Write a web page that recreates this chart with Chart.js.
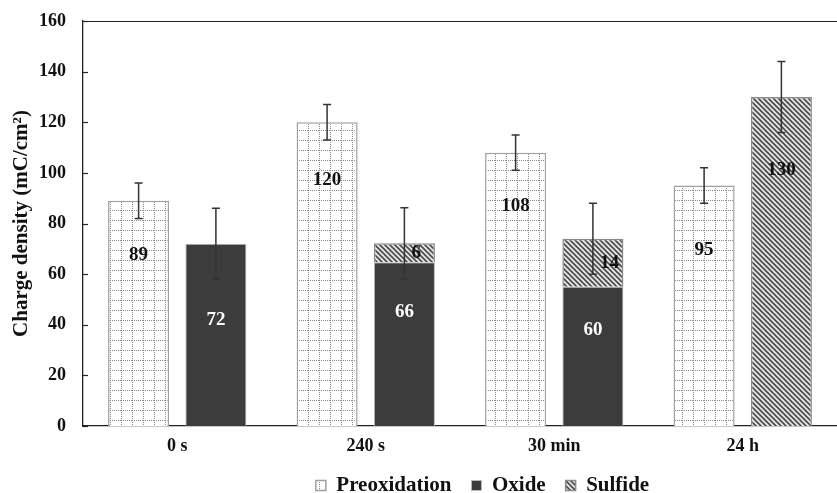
<!DOCTYPE html>
<html>
<head>
<meta charset="utf-8">
<script src="https://cdn.jsdelivr.net/npm/chart.js@4.4.0/dist/chart.umd.min.js"></script>
<style>
  html, body { margin: 0; padding: 0; background: #fff; }
  #wrap { width: 837px; height: 493px; }
</style>
</head>
<body>
<div id="wrap"><canvas id="chart"></canvas></div>
<script>
// chart data
const categories = ['0 s', '240 s', '30 min', '24 h'];
const preoxidation = [89, 120, 108, 95];
const oxide = [72, 64.7, 55, null];
const sulfide = [null, 7.5, 19, 130];
const preoxErr = [7, 7, 7, 7];
const stackErr = [14, 14, 14, 14];
const preoxLabels = ['89', '120', '108', '95'];
const oxideLabels = ['72', '66', '60', ''];
const sulfideLabels = ['', '6', '14', '130'];
const yMin = 0, yMax = 160, yStep = 20;

const FONT = "'Liberation Serif', 'Times New Roman', serif";

// fill patterns
function makeGridPattern() {
    const c = document.createElement('canvas');
    c.width = 11; c.height = 10;
    const g = c.getContext('2d');
    g.fillStyle = '#fff';
    g.fillRect(0, 0, 11, 10);
    g.fillStyle = '#8a8a8a';
    for (let i = 0; i < 11; i += 2) g.fillRect(i, 0, 1, 1);
    for (let j = 0; j < 10; j += 2) g.fillRect(0, j, 1, 1);
    return g.createPattern(c, 'repeat');
}

function makeHatchPattern() {
    const s = 5;
    const c = document.createElement('canvas');
    c.width = s; c.height = s;
    const g = c.getContext('2d');
    g.fillStyle = '#e6e6e6';
    g.fillRect(0, 0, s, s);
    g.strokeStyle = '#4a4a4a';
    g.lineWidth = 1.6;
    g.beginPath();
    g.moveTo(-1, -1); g.lineTo(s + 1, s + 1);
    g.moveTo(-1, s - 1); g.lineTo(1, s + 1);
    g.moveTo(s - 1, -1); g.lineTo(s + 1, 1);
    g.stroke();
    return g.createPattern(c, 'repeat');
}

// move the legend a little right, like the original
const legendShift = {
    id: 'legendShift',
    afterLayout(chart) {
        const lg = chart.legend;
        if (!lg) return;
        lg.left += 64; lg.right += 64;
        lg.adjustHitBoxes && lg.adjustHitBoxes();
    }
};

// error bars, ticks, top frame line, value labels
const decorPlugin = {
    id: 'decor',
    afterDatasetsDraw(chart) {
        const ctx = chart.ctx;
        const y = chart.scales.y;
        const area = chart.chartArea;
        ctx.save();
        ctx.strokeStyle = '#333';
        ctx.lineWidth = 1.5;
        const cap = 4;
        function errBar(x, v, e) {
            const top = y.getPixelForValue(v + e);
            const bot = y.getPixelForValue(v - e);
            ctx.beginPath();
            ctx.moveTo(x, top); ctx.lineTo(x, bot);
            ctx.moveTo(x - cap, top); ctx.lineTo(x + cap, top);
            ctx.moveTo(x - cap, bot); ctx.lineTo(x + cap, bot);
            ctx.stroke();
        }
        const m0 = chart.getDatasetMeta(0);
        const m1 = chart.getDatasetMeta(1);
        const m2 = chart.getDatasetMeta(2);
        categories.forEach((c, i) => {
            errBar(m0.data[i].x, preoxidation[i], preoxErr[i]);
            const total = (oxide[i] || 0) + (sulfide[i] || 0);
            errBar(m2.data[i].x, total, stackErr[i]);
        });

        // inward ticks on the y axis
        ctx.strokeStyle = '#222';
        ctx.lineWidth = 1.2;
        for (let v = yMin; v <= yMax; v += yStep) {
            const py = Math.round(y.getPixelForValue(v)) + 0.5;
            ctx.beginPath();
            ctx.moveTo(area.left, py); ctx.lineTo(area.left + 5, py);
            ctx.stroke();
        }
        // top frame line
        ctx.beginPath();
        ctx.moveTo(area.left, area.top + 0.5);
        ctx.lineTo(chart.width, area.top + 0.5);
        ctx.stroke();

        // value labels
        const opts = chart.options.plugins.decor;
        ctx.font = 'bold 19px ' + FONT;
        ctx.textBaseline = 'middle';
        categories.forEach((c, i) => {
            ctx.textAlign = 'center';
            ctx.fillStyle = '#111';
            ctx.fillText(preoxLabels[i], m0.data[i].x, y.getPixelForValue(opts.preoxAt[i]));
            if (oxideLabels[i]) {
                ctx.fillStyle = '#fff';
                ctx.fillText(oxideLabels[i], m1.data[i].x, y.getPixelForValue(opts.oxideAt[i]));
            }
            if (sulfideLabels[i]) {
                ctx.fillStyle = '#111';
                if (oxide[i]) {
                    const mid = oxide[i] + sulfide[i] / 2;
                    ctx.textAlign = 'left';
                    ctx.fillText(sulfideLabels[i], m2.data[i].x + 7, y.getPixelForValue(mid));
                } else {
                    ctx.fillText(sulfideLabels[i], m2.data[i].x, y.getPixelForValue(opts.sulfideAt[i]));
                }
            }
        });
        ctx.restore();
    }
};

const gridPat = makeGridPattern();
const hatchPat = makeHatchPattern();

new Chart(document.getElementById('chart'), {
    type: 'bar',
    data: {
        labels: categories,
        datasets: [
            {
                label: 'Preoxidation',
                data: preoxidation,
                stack: 'a',
                backgroundColor: gridPat,
                borderColor: '#a0a0a0',
                borderWidth: 1.5
            },
            {
                label: 'Oxide',
                data: oxide,
                stack: 'b',
                backgroundColor: '#3c3c3c',
                borderColor: '#b8b8b8',
                borderWidth: 1
            },
            {
                label: 'Sulfide',
                data: sulfide,
                stack: 'b',
                backgroundColor: hatchPat,
                borderColor: '#8a8a8a',
                borderWidth: 1.5
            }
        ]
    },
    options: {
        responsive: true,
        maintainAspectRatio: false,
        animation: false,
        layout: { padding: { top: 21, right: 0, left: 0, bottom: -13 } },
        datasets: {
            bar: { categoryPercentage: 0.82, barPercentage: 0.79 }
        },
        plugins: {
            legend: {
                position: 'bottom',
                labels: {
                    color: '#111',
                    font: { family: FONT, size: 21, weight: 'bold' },
                    boxWidth: 10,
                    boxHeight: 10,
                    padding: 20
                }
            },
            tooltip: { enabled: false },
            decor: {
                preoxAt: [67.5, 97, 87, 69.5],
                oxideAt: [42, 45, 38, null],
                sulfideAt: [null, null, null, 101]
            }
        },
        scales: {
            x: {
                stacked: true,
                grid: { display: false, drawTicks: false },
                border: { display: true, color: '#222', width: 1.3 },
                ticks: {
                    color: '#111',
                    padding: 10,
                    font: { family: FONT, size: 18, weight: 'bold' }
                },
                afterFit(scale) { scale.height = 29; }
            },
            y: {
                stacked: true,
                min: yMin,
                max: yMax,
                grid: { display: false, drawTicks: false },
                border: { display: true, color: '#222', width: 1.3 },
                ticks: {
                    stepSize: yStep,
                    color: '#111',
                    padding: 17,
                    font: { family: FONT, size: 18, weight: 'bold' }
                },
                title: {
                    display: true,
                    text: 'Charge density (mC/cm²)',
                    color: '#111',
                    font: { family: FONT, size: 21, weight: 'bold' },
                    padding: { top: 9, bottom: 0 }
                },
                afterFit(scale) {
                    scale.width = 83;
                    scale.paddingTop = 0;
                    scale.paddingBottom = 0;
                }
            }
        }
    },
    plugins: [legendShift, decorPlugin]
});
</script>
</body>
</html>
